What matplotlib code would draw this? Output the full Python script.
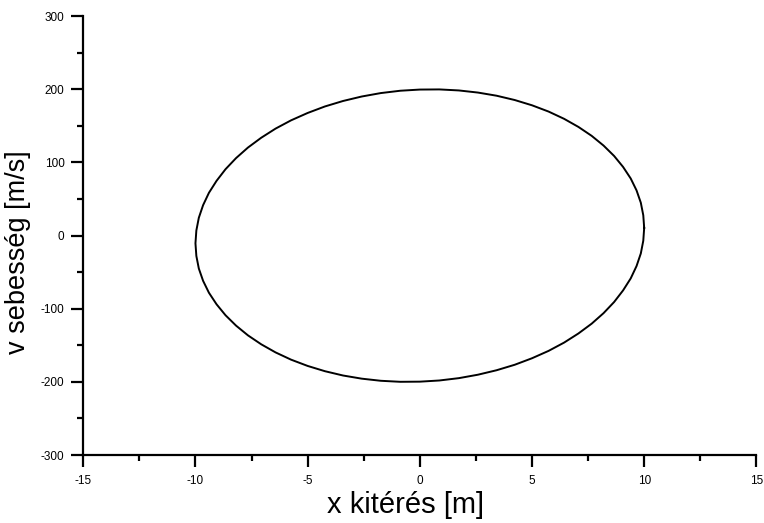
import matplotlib
matplotlib.use('Agg')
import matplotlib.pyplot as plt
from matplotlib.ticker import MultipleLocator

plt.rcParams['font.family'] = ['Liberation Sans', 'DejaVu Sans']
plt.rcParams['axes.unicode_minus'] = False

# phase portrait points (x in m, v in m/s), upper half then lower half
x_top = [10.0, 9.96, 9.85, 9.66, 9.40, 9.06, 8.66, 8.19, 7.66, 7.07, 6.43, 5.74,
         5.00, 4.23, 3.42, 2.59, 1.74, 0.87, 0.0, -0.87, -1.74, -2.59, -3.42, -4.23,
         -5.00, -5.74, -6.43, -7.07, -7.66, -8.19, -8.66, -9.06, -9.40, -9.66, -9.85, -9.96]
v_top = [10.5, 27.8, 45.0, 61.8, 78.1, 93.9, 108.9, 123.1, 136.4, 148.6, 159.7, 169.6,
         178.2, 185.4, 191.3, 195.6, 198.5, 199.9, 199.7, 198.1, 194.9, 190.2, 184.1, 176.6,
         167.7, 157.6, 146.3, 133.8, 120.4, 106.0, 90.8, 74.9, 58.5, 41.6, 24.4, 7.0]
x_bot = [-10.0, -9.96, -9.85, -9.66, -9.40, -9.06, -8.66, -8.19, -7.66, -7.07, -6.43, -5.74,
         -5.00, -4.23, -3.42, -2.59, -1.74, -0.87, 0.0, 0.87, 1.74, 2.59, 3.42, 4.23,
         5.00, 5.74, 6.43, 7.07, 7.66, 8.19, 8.66, 9.06, 9.40, 9.66, 9.85, 9.96, 10.0]
v_bot = [-10.5, -27.8, -45.0, -61.8, -78.1, -93.9, -108.9, -123.1, -136.4, -148.6, -159.7, -169.6,
         -178.2, -185.4, -191.3, -195.6, -198.5, -199.9, -199.7, -198.1, -194.9, -190.2, -184.1, -176.6,
         -167.7, -157.6, -146.3, -133.8, -120.4, -106.0, -90.8, -74.9, -58.5, -41.6, -24.4, -7.0, 10.5]

x = x_top + x_bot
v = v_top + v_bot

fig = plt.figure(figsize=(7.64, 5.23), dpi=100)
ax = fig.add_axes([0.109, 0.130, 0.881, 0.839])
ax.plot(x, v, color='black', lw=1.4, solid_joinstyle='round')

ax.set_xlim(-15, 15)
ax.set_ylim(-300, 300)
ax.xaxis.set_major_locator(MultipleLocator(5))
ax.xaxis.set_minor_locator(MultipleLocator(2.5))
ax.yaxis.set_major_locator(MultipleLocator(100))
ax.yaxis.set_minor_locator(MultipleLocator(50))
ax.spines['top'].set_visible(False)
ax.spines['right'].set_visible(False)
for s in ['left', 'bottom']:
    ax.spines[s].set_linewidth(1.6)
ax.tick_params(which='major', direction='out', length=8.5, width=1.6, labelsize=8.5, pad=5, colors='black')
ax.tick_params(axis='x', which='major', pad=6)
ax.tick_params(which='minor', direction='out', length=4.3, width=1.6)

ax.set_xlabel('x kitérés [m]', fontsize=21)
ax.set_ylabel('v sebesség [m/s]', fontsize=19.5)
ax.xaxis.set_label_coords(0.479, -0.081)
ax.yaxis.set_label_coords(-0.077, 0.462)

fig.savefig('out.png', dpi=100)
